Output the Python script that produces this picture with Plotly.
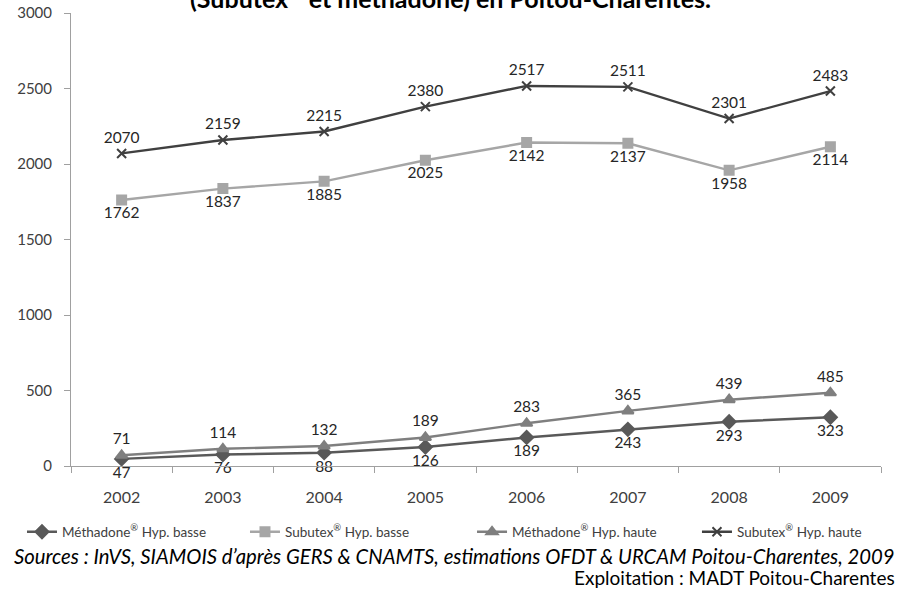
import plotly.graph_objects as go

years = ["2002", "2003", "2004", "2005", "2006", "2007", "2008", "2009"]
methadone_basse = [47, 76, 88, 126, 189, 243, 293, 323]
subutex_basse = [1762, 1837, 1885, 2025, 2142, 2137, 1958, 2114]
methadone_haute = [71, 114, 132, 189, 283, 365, 439, 485]
subutex_haute = [2070, 2159, 2215, 2380, 2517, 2511, 2301, 2483]

series = [
    ("Méthadone<sup>®</sup> Hyp. basse", methadone_basse, "#595959", "diamond", 10, "bottom center", "legend"),
    ("Subutex<sup>®</sup> Hyp. basse", subutex_basse, "#a6a6a6", "square", 9, "bottom center", "legend2"),
    ("Méthadone<sup>®</sup> Hyp. haute", methadone_haute, "#7f7f7f", "triangle-up", 10, "top center", "legend3"),
    ("Subutex<sup>®</sup> Hyp. haute", subutex_haute, "#404040", "x-thin", 9, "top center", "legend4"),
]

FONT = "Lato, 'Open Sans', sans-serif"

fig = go.Figure()
for name, vals, col, sym, size, tp, leg in series:
    fig.add_trace(go.Scatter(
        x=years, y=vals, name=name, mode="lines+markers+text",
        line=dict(color=col, width=2.4),
        marker=dict(symbol=sym, size=size, color=col, line=dict(color=col, width=2)),
        text=[str(v) for v in vals], textposition=tp,
        textfont=dict(size=15.5, color="#262626", family=FONT),
        cliponaxis=False, legend=leg,
    ))

leg_common = dict(orientation="h", xanchor="left", y=-0.1457, yanchor="middle",
                  font=dict(size=13.5, color="#404040"), bgcolor="rgba(0,0,0,0)")

fig.update_layout(
    width=903, height=597,
    margin=dict(l=71, r=22, t=13, b=131, autoexpand=False),
    paper_bgcolor="white", plot_bgcolor="white",
    font=dict(family=FONT, color="#404040"),
    showlegend=True,
    legend=dict(x=-0.0605, **leg_common),
    legend2=dict(x=0.2148, **leg_common),
    legend3=dict(x=0.4951, **leg_common),
    legend4=dict(x=0.7728, **leg_common),
    xaxis=dict(type="category", range=[-0.5, 7.5], showline=True, linecolor="#a0a0a0",
               ticks="outside", tickson="boundaries", ticklen=6, tickcolor="#a0a0a0",
               showgrid=False, tickfont=dict(size=16, color="#404040"), ticklabelstandoff=17,
               automargin=False),
    yaxis=dict(range=[0, 3000], dtick=500, showline=True, linecolor="#a0a0a0",
               ticks="outside", ticklen=6, tickcolor="#a0a0a0", showgrid=False, zeroline=False,
               tickfont=dict(size=15, color="#404040"), ticklabelstandoff=9, automargin=False),
    annotations=[
        dict(text="<b>(Subutex<sup>®</sup> et méthadone) en Poitou-Charentes.</b>",
             xref="paper", yref="paper", x=0.469, y=1.0375, xanchor="center", yanchor="middle",
             showarrow=False, font=dict(size=25, color="#000000", family=FONT)),
        dict(text="<i>Sources : InVS, SIAMOIS d’après GERS & CNAMTS, estimations OFDT & URCAM Poitou-Charentes, 2009</i>",
             xref="paper", yref="paper", x=1.0197, y=-0.1987, xanchor="right", yanchor="middle",
             showarrow=False, font=dict(size=20.3, color="#000000", family=FONT)),
        dict(text="Exploitation : MADT Poitou-Charentes",
             xref="paper", yref="paper", x=1.0197, y=-0.2472, xanchor="right", yanchor="middle",
             showarrow=False, font=dict(size=19, color="#000000", family=FONT)),
    ],
)

fig.write_html("out.html", config={"displayModeBar": False},
               post_script="document.body.style.margin='0';")
